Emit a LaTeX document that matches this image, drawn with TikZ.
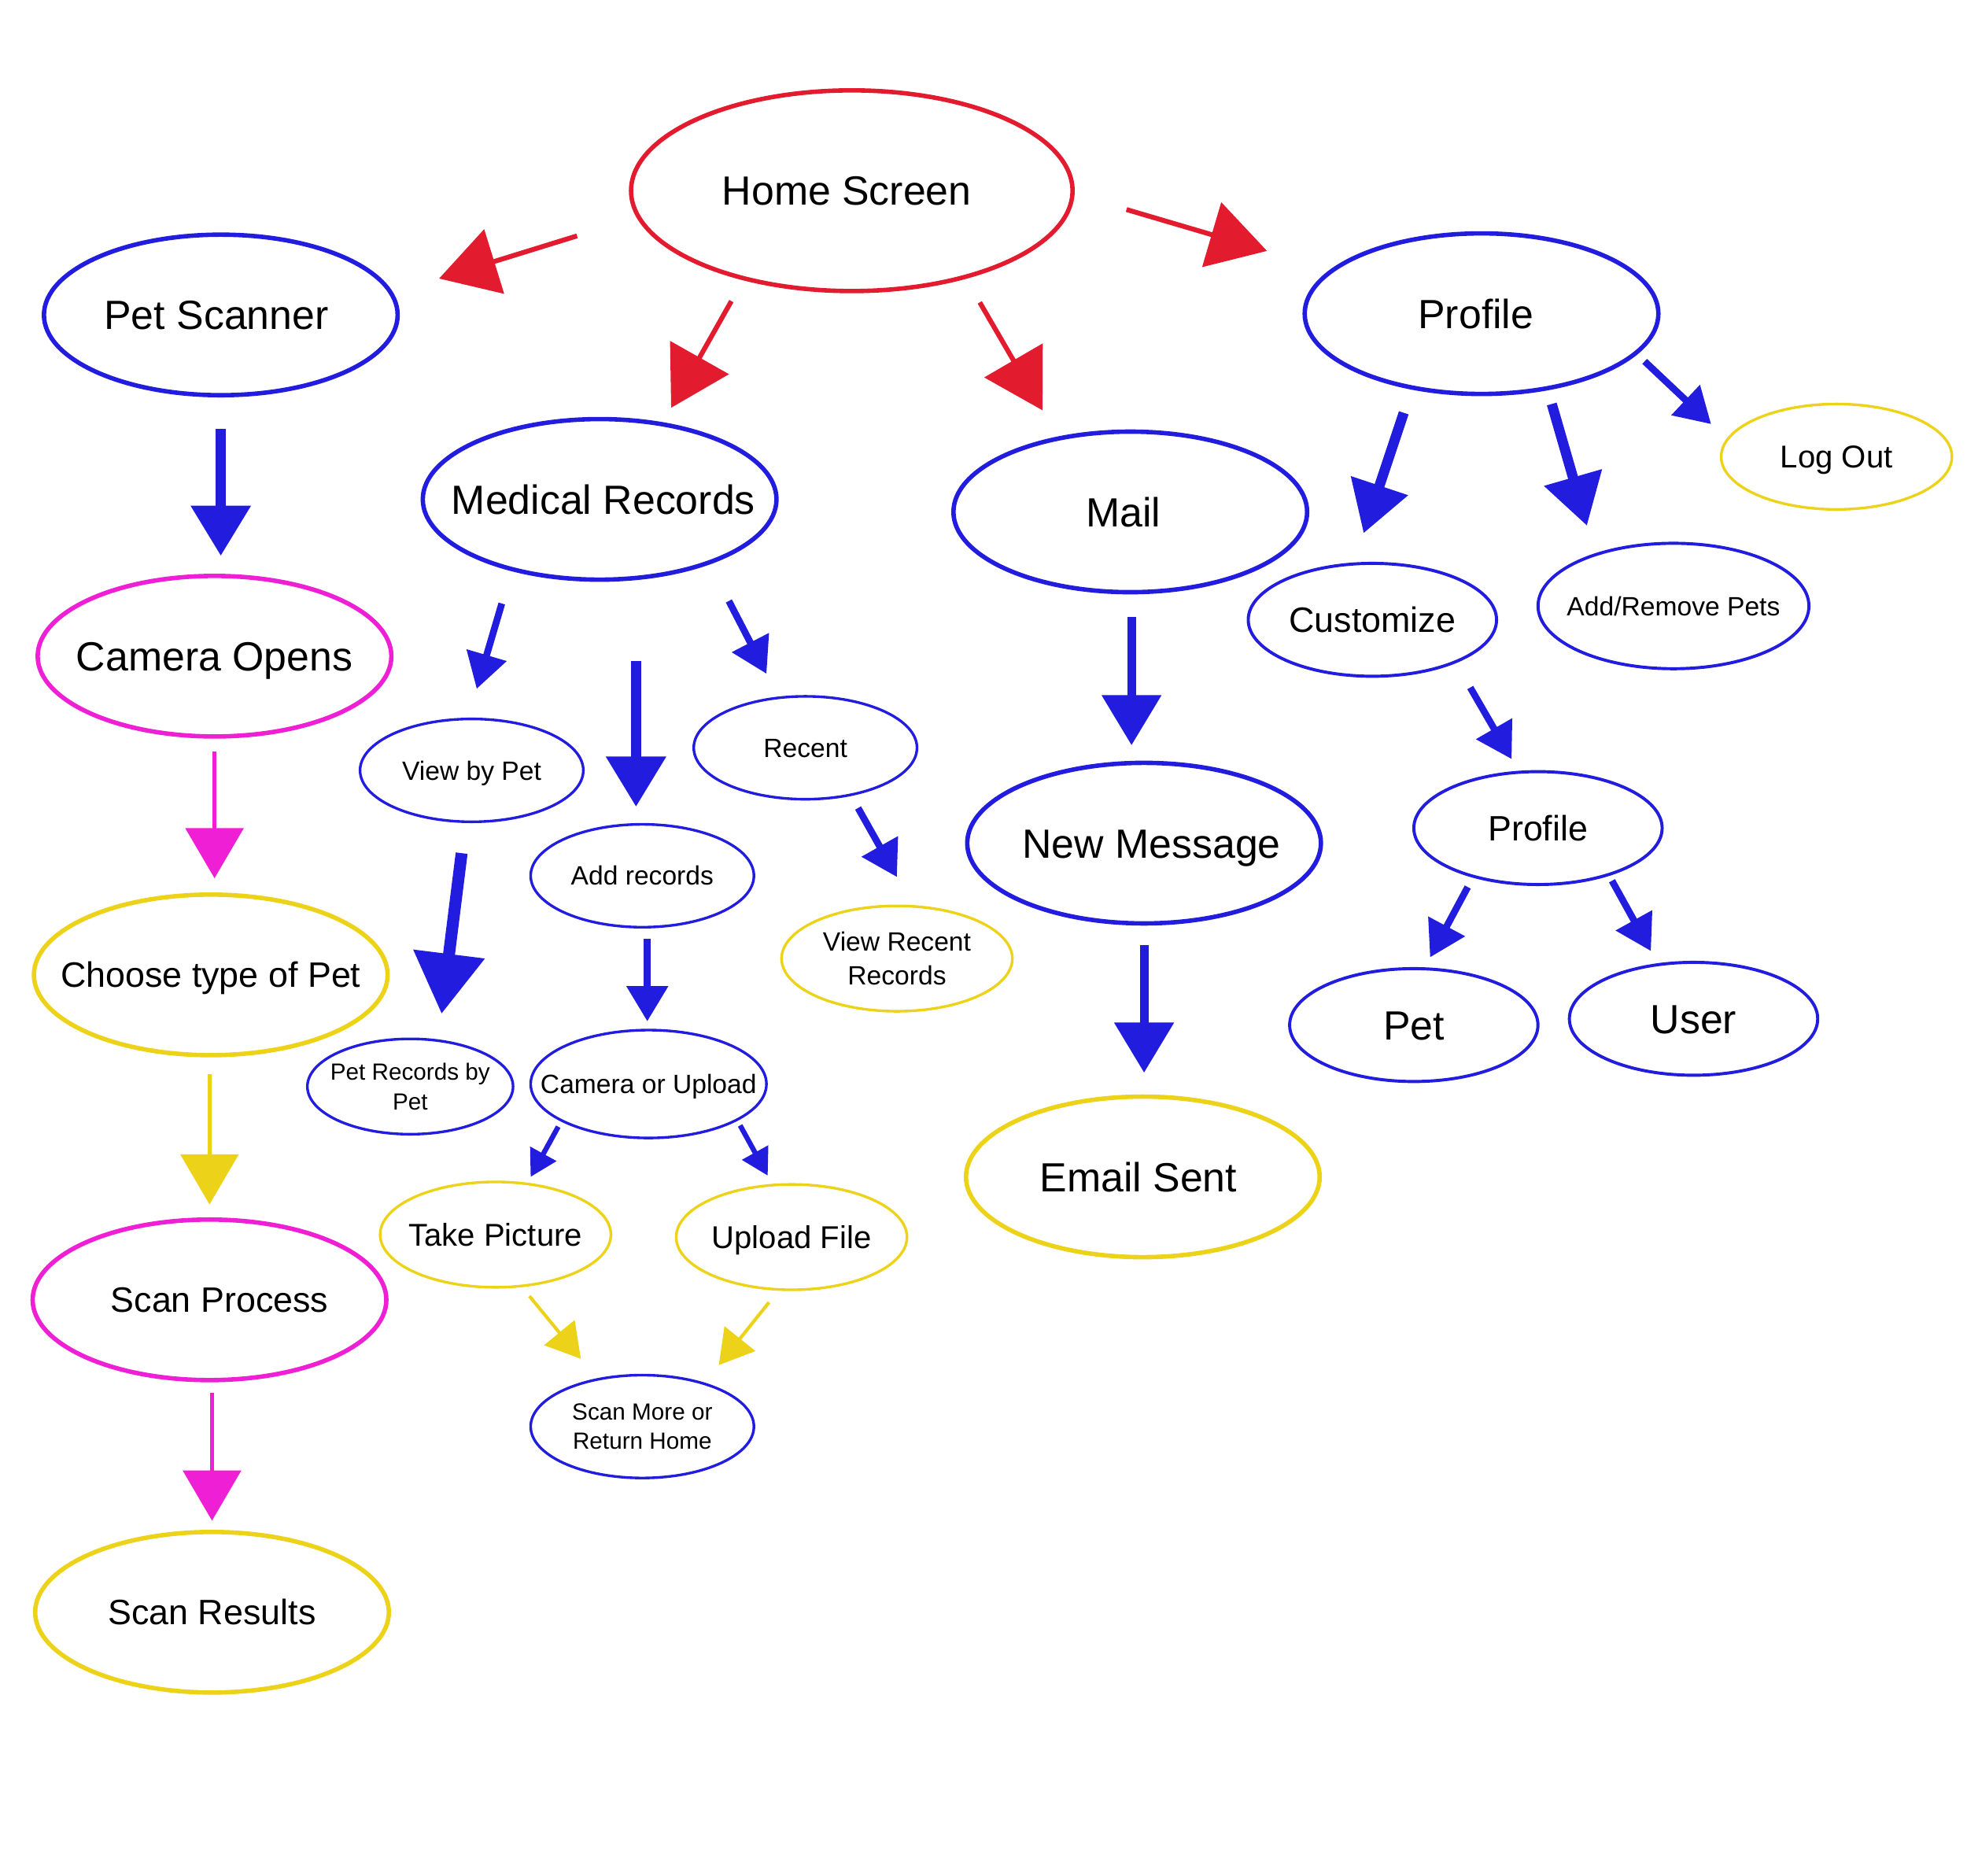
\documentclass[tikz,border=0pt]{standalone}
\usepackage{fontspec}
\setmainfont{Liberation Sans}
\usetikzlibrary{arrows.meta,shapes.geometric}

\definecolor{appred}{HTML}{E21B2E}
\definecolor{appblue}{HTML}{221CDF}
\definecolor{apppink}{HTML}{EE1FD4}
\definecolor{appyellow}{HTML}{ECD31A}

\tikzstyle{screen} = [ellipse, draw, inner sep=-1cm, align=center, text=black]
\tikzstyle{big} = [screen, line width=2pt, minimum width=5.64cm, minimum height=2.56cm]
\tikzstyle{mid} = [screen, line width=1.4pt, minimum width=3.96cm, minimum height=1.8cm]
\tikzstyle{small} = [screen, line width=1.2pt, minimum width=3.56cm, minimum height=1.64cm]
\tikzstyle{xl} = [font=\fontsize{18.5}{22}\selectfont, text height=13.3pt, text depth=0pt]
\tikzstyle{lg} = [font=\fontsize{16}{19}\selectfont, text height=11.5pt, text depth=0pt]
\tikzstyle{md} = [font=\fontsize{14.3}{17}\selectfont, text height=10.2pt, text depth=0pt]
\tikzstyle{sm} = [font=\fontsize{12}{14}\selectfont, text height=8.6pt, text depth=0pt]
\tikzstyle{smtwo} = [font=\fontsize{12}{15.3}\selectfont]
\tikzstyle{xs} = [font=\fontsize{10.6}{13.4}\selectfont]

\tikzstyle{redflow} = [draw=appred, line width=2.2pt, -{Triangle[length=0.92cm, width=1.06cm]}]
\tikzstyle{bluebig} = [draw=appblue, line width=4.6pt, -{Triangle[length=0.8cm, width=0.92cm]}]
\tikzstyle{bluemid} = [draw=appblue, line width=3.1pt, -{Triangle[length=0.56cm, width=0.64cm]}]
\tikzstyle{bluesmall} = [draw=appblue, line width=2.3pt, -{Triangle[length=0.42cm, width=0.46cm]}]
\tikzstyle{pinkflow} = [draw=apppink, line width=1.8pt, -{Triangle[length=0.8cm, width=0.92cm]}]
\tikzstyle{yellowflow} = [draw=appyellow, line width=1.8pt, -{Triangle[length=0.8cm, width=0.92cm]}]
\tikzstyle{yellowthin} = [draw=appyellow, line width=1.5pt, -{Triangle[length=0.54cm, width=0.62cm]}]

\begin{document}
\begin{tikzpicture}[x=0.02cm, y=-0.02cm]
\useasboundingbox (0,0) rectangle (1568,1495);

% screens
\node[big, xl, draw=appred, minimum width=7.04cm, minimum height=3.2cm] (home) at (679,152) {Home Screen\hspace{0.16cm}};
\node[big, xl, draw=appblue] (scanner) at (176,251) {Pet Scanner\hspace{0.14cm}};
\node[big, xl, draw=appblue] (profile) at (1181,250) {Profile\hspace{0.18cm}};
\node[big, xl, draw=appblue] (medical) at (478,398) {\hspace{0.12cm}Medical Records};
\node[big, xl, draw=appblue] (mail) at (901,408) {Mail\hspace{0.22cm}};
\node[small, md, draw=appyellow, minimum width=3.68cm, minimum height=1.68cm] (logout) at (1464,364) {Log Out};
\node[mid, lg, draw=appblue] (customize) at (1094,494) {Customize};
\node[mid, sm, draw=appblue, minimum width=4.32cm, minimum height=2cm] (addremove) at (1334,483) {Add/Remove Pets};
\node[big, xl, draw=apppink] (camera) at (171,523) {Camera Opens};
\node[small, sm, draw=appblue] (bypet) at (376,614) {View by Pet};
\node[small, sm, draw=appblue] (recent) at (642,596) {Recent};
\node[small, sm, draw=appblue] (addrec) at (512,698) {Add records};
\node[big, xl, draw=appblue] (newmsg) at (912,672) {\hspace{0.24cm}New Message};
\node[mid, lg, draw=appblue] (subprofile) at (1226,660) {Profile};
\node[small, smtwo, draw=appyellow, minimum width=3.68cm, minimum height=1.68cm] (viewrecent) at (715,764) {View Recent\\Records};
\node[big, lg, draw=appyellow] (choose) at (168,777) {Choose type of Pet};
\node[mid, xl, draw=appblue] (pet) at (1127,817) {Pet};
\node[mid, xl, draw=appblue] (user) at (1350,812) {User};
\node[small, xs, draw=appblue, minimum width=3.28cm, minimum height=1.52cm] (petrecords) at (327,866) {Pet Records by\\Pet};
\node[small, sm, draw=appblue, minimum width=3.76cm, minimum height=1.72cm] (camupload) at (517,864) {Camera or Upload};
\node[big, xl, draw=appyellow] (email) at (911,938) {Email Sent\hspace{0.14cm}};
\node[small, md, draw=appyellow, minimum width=3.68cm, minimum height=1.68cm] (takepic) at (395,984) {Take Picture};
\node[small, md, draw=appyellow, minimum width=3.68cm, minimum height=1.68cm] (upload) at (631,986) {Upload File};
\node[big, lg, draw=apppink] (process) at (167,1036) {\hspace{0.32cm}Scan Process};
\node[small, xs, draw=appblue] (scanmore) at (512,1137) {Scan More or\\Return Home};
\node[big, lg, draw=appyellow] (results) at (169,1285) {Scan Results};

% arrow ends
\coordinate (home-scanner-s) at (460,188);   \coordinate (home-scanner-e) at (350,222);
\coordinate (home-medical-s) at (583,240);   \coordinate (home-medical-e) at (535,325);
\coordinate (home-mail-s) at (781,241);      \coordinate (home-mail-e) at (831,327);
\coordinate (home-profile-s) at (898,167);   \coordinate (home-profile-e) at (1010,200);
\coordinate (scanner-camera-s) at (176,342); \coordinate (scanner-camera-e) at (176,443);
\coordinate (camera-choose-s) at (171,599);  \coordinate (camera-choose-e) at (171,700);
\coordinate (choose-process-s) at (167,856); \coordinate (choose-process-e) at (167,960);
\coordinate (process-results-s) at (169,1110); \coordinate (process-results-e) at (169,1212);
\coordinate (medical-bypet-s) at (400,481);  \coordinate (medical-bypet-e) at (380,549);
\coordinate (medical-addrec-s) at (507,527); \coordinate (medical-addrec-e) at (507,643);
\coordinate (medical-recent-s) at (581,479); \coordinate (medical-recent-e) at (611,537);
\coordinate (bypet-records-s) at (368,680);  \coordinate (bypet-records-e) at (352,808);
\coordinate (recent-view-s) at (684,644);    \coordinate (recent-view-e) at (715,699);
\coordinate (addrec-cam-s) at (516,748);     \coordinate (addrec-cam-e) at (516,814);
\coordinate (cam-take-s) at (445,898);       \coordinate (cam-take-e) at (423,938);
\coordinate (cam-upload-s) at (590,897);     \coordinate (cam-upload-e) at (612,937);
\coordinate (take-more-s) at (422,1033);     \coordinate (take-more-e) at (463,1083);
\coordinate (upload-more-s) at (613,1038);   \coordinate (upload-more-e) at (573,1088);
\coordinate (mail-new-s) at (902,492);       \coordinate (mail-new-e) at (902,594);
\coordinate (new-email-s) at (912,753);      \coordinate (new-email-e) at (912,855);
\coordinate (profile-custom-s) at (1119,329); \coordinate (profile-custom-e) at (1087,425);
\coordinate (profile-pets-s) at (1237,322);  \coordinate (profile-pets-e) at (1265,419);
\coordinate (profile-out-s) at (1311,288);   \coordinate (profile-out-e) at (1364,338);
\coordinate (custom-sub-s) at (1172,548);    \coordinate (custom-sub-e) at (1205,605);
\coordinate (sub-pet-s) at (1170,707);       \coordinate (sub-pet-e) at (1140,763);
\coordinate (sub-user-s) at (1285,702);      \coordinate (sub-user-e) at (1316,758);

% home screen
\draw[redflow] (home-scanner-s) -- (home-scanner-e);
\draw[redflow] (home-medical-s) -- (home-medical-e);
\draw[redflow] (home-mail-s) -- (home-mail-e);
\draw[redflow] (home-profile-s) -- (home-profile-e);

% pet scanner
\draw[bluebig] (scanner-camera-s) -- (scanner-camera-e);
\draw[pinkflow] (camera-choose-s) -- (camera-choose-e);
\draw[yellowflow] (choose-process-s) -- (choose-process-e);
\draw[pinkflow] (process-results-s) -- (process-results-e);

% medical records
\draw[bluemid] (medical-bypet-s) -- (medical-bypet-e);
\draw[bluebig] (medical-addrec-s) -- (medical-addrec-e);
\draw[bluemid] (medical-recent-s) -- (medical-recent-e);
\draw[bluebig, line width=5.4pt, -{Triangle[length=0.96cm, width=1.1cm]}] (bypet-records-s) -- (bypet-records-e);
\draw[bluemid] (recent-view-s) -- (recent-view-e);
\draw[bluemid] (addrec-cam-s) -- (addrec-cam-e);
\draw[bluesmall] (cam-take-s) -- (cam-take-e);
\draw[bluesmall] (cam-upload-s) -- (cam-upload-e);
\draw[yellowthin] (take-more-s) -- (take-more-e);
\draw[yellowthin] (upload-more-s) -- (upload-more-e);

% mail
\draw[bluebig, line width=4pt] (mail-new-s) -- (mail-new-e);
\draw[bluebig, line width=4pt] (new-email-s) -- (new-email-e);

% profile
\draw[bluebig] (profile-custom-s) -- (profile-custom-e);
\draw[bluebig] (profile-pets-s) -- (profile-pets-e);
\draw[bluemid] (profile-out-s) -- (profile-out-e);
\draw[bluemid] (custom-sub-s) -- (custom-sub-e);
\draw[bluemid] (sub-pet-s) -- (sub-pet-e);
\draw[bluemid] (sub-user-s) -- (sub-user-e);
\end{tikzpicture}
\end{document}
